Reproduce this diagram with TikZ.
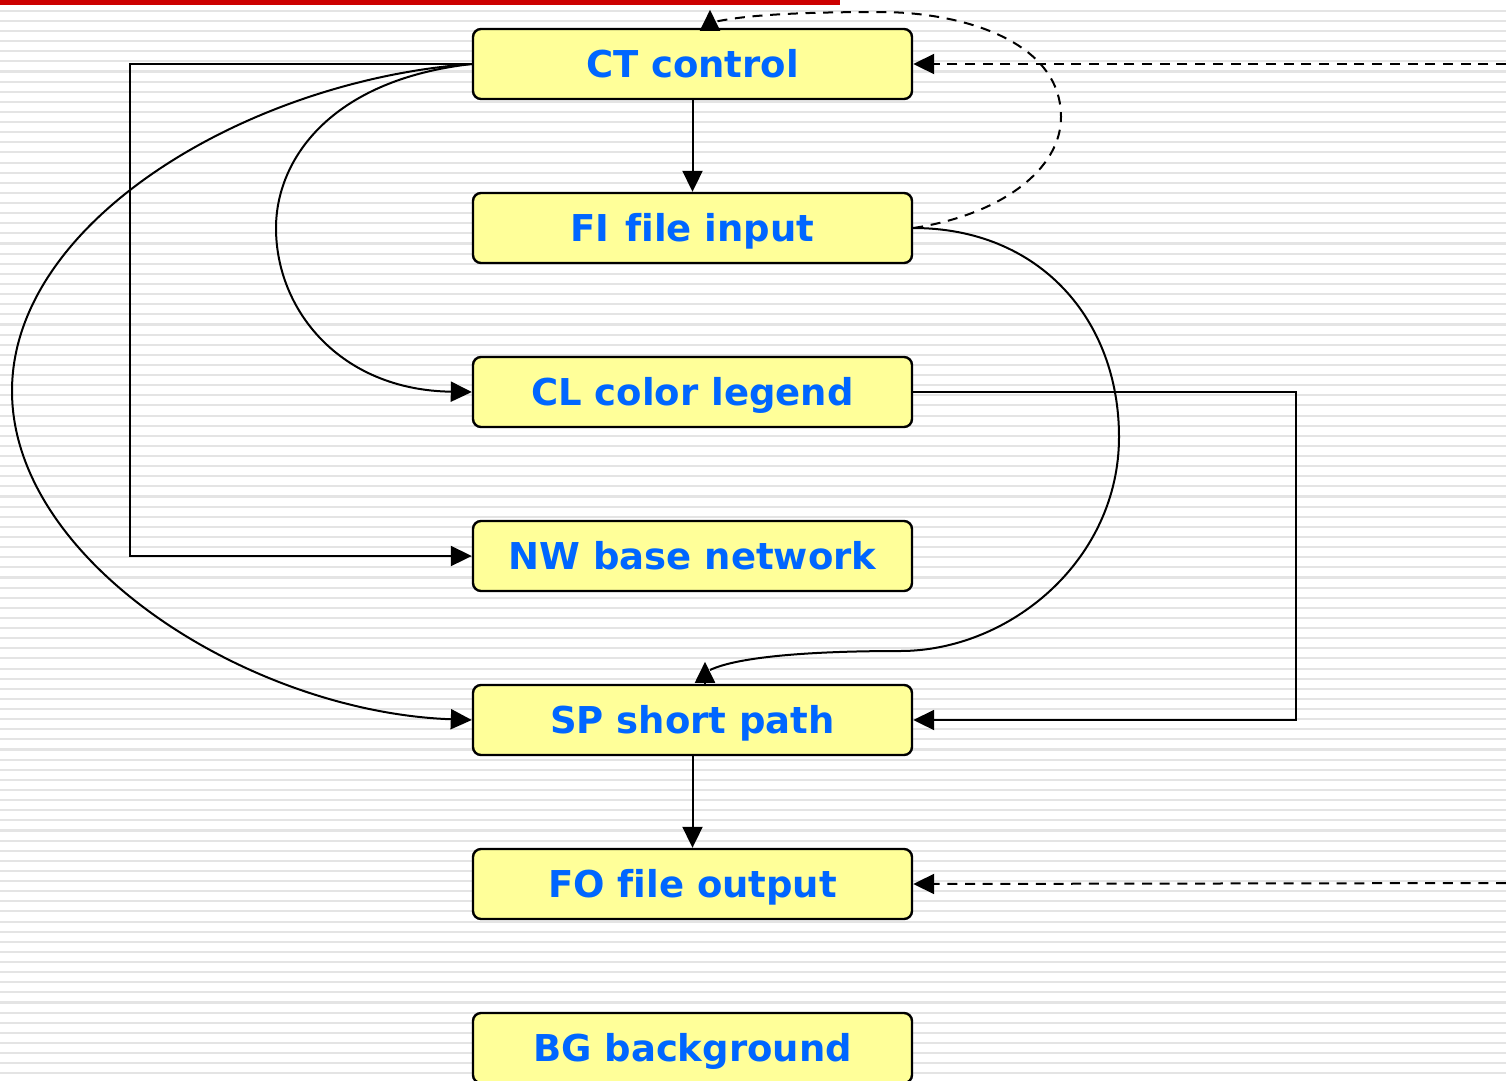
\documentclass[tikz,border=0pt]{standalone}
\usepackage{fontspec}
\setmainfont[Ligatures=NoCommon]{DejaVu Sans}
\usetikzlibrary{arrows.meta,calc}
\definecolor{boxfill}{RGB}{255,255,153}
\definecolor{txtblue}{RGB}{0,102,255}
\definecolor{barred}{RGB}{204,0,0}
\definecolor{stripegray}{RGB}{228,228,228}
\begin{document}
\begin{tikzpicture}[x=1pt,y=-1pt,
  box/.style={draw=black, line width=2.4pt, rounded corners=8pt, fill=boxfill,
    minimum width=439pt, minimum height=70pt, inner sep=0pt, text=txtblue,
    font=\fontsize{37pt}{44pt}\selectfont\bfseries, text height=27pt, text depth=0pt},
  conn/.style={draw=black, line width=2pt},
  arr/.style={conn, -{Triangle[length=21pt,width=20pt]}},
  dashline/.style={conn, dash pattern=on 10pt off 7.7pt},
]
\useasboundingbox (0,0) rectangle (1506,1080);
\clip (0,0) rectangle (1506,1080);
\fill[white] (0,0) rectangle (1506,1080);
\foreach \i in {0,...,106} \fill[stripegray] (0,{9.7+\i*10.12}) rectangle (1506,{11.8+\i*10.12});
\fill[barred] (0,0) rectangle (840,4.8);

\node[box] (ct) at (692.5,64) {CT control};
\node[box] (fi) at (692.5,228) {FI\hspace{16pt}file input};
\node[box] (cl) at (692.5,392) {CL color legend};
\node[box] (nw) at (692.5,556) {NW base network};
\node[box] (sp) at (692.5,720) {SP short path};
\node[box] (fo) at (692.5,884) {FO file output};
\node[box] (bg) at (692.5,1048) {BG background};

\coordinate (ctR) at (1506,64);
\coordinate (foR) at (1506,883);
\coordinate (spIn) at (710,670);
\coordinate (ctIn) at (714,22);

% straight connectors
\draw[arr] (ct.south) -- (fi.north);
\draw[arr] (sp.south) -- (fo.north);
\draw[arr] (ct.west) -- ++(-342,0) |- (nw.west);
\draw[arr] (cl.east) -- ++(383,0) |- (sp.east);

% curved connectors from CT
\draw[arr] (ct.west) .. controls (330,80) and (276,160) .. (276,228)
  .. controls (276,310) and (340,390) .. (cl.west);
\draw[arr] (ct.west) .. controls (250,80) and (12,220) .. (12,391)
  .. controls (12,562) and (250,712) .. (sp.west);

% FI -> SP
\draw[conn] (fi.east) .. controls (1040,228) and (1119,320) .. (1119,437)
  .. controls (1119,560) and (1010,651) .. (900,651)
  .. controls (800,651) and (735,658) .. (spIn);
\draw[arr] ($(sp.north)+(12.5,0)$) -- ++(0,-22);

% FI -> CT dashed loop
\draw[dashline] (fi.east) .. controls (1000,215) and (1061,170) .. (1061,117)
  .. controls (1061,40) and (960,12) .. (880,12)
  .. controls (800,12) and (745,15) .. (ctIn);
\draw[arr] ($(ct.north)+(17.5,0)$) -- ++(0,-18);

% dashed inputs from the right
\draw[dashline, -{Triangle[length=21pt,width=20pt]}] (ctR) -- (ct.east);
\draw[dashline, -{Triangle[length=21pt,width=20pt]}] (foR) -- (fo.east);
\end{tikzpicture}
\end{document}
